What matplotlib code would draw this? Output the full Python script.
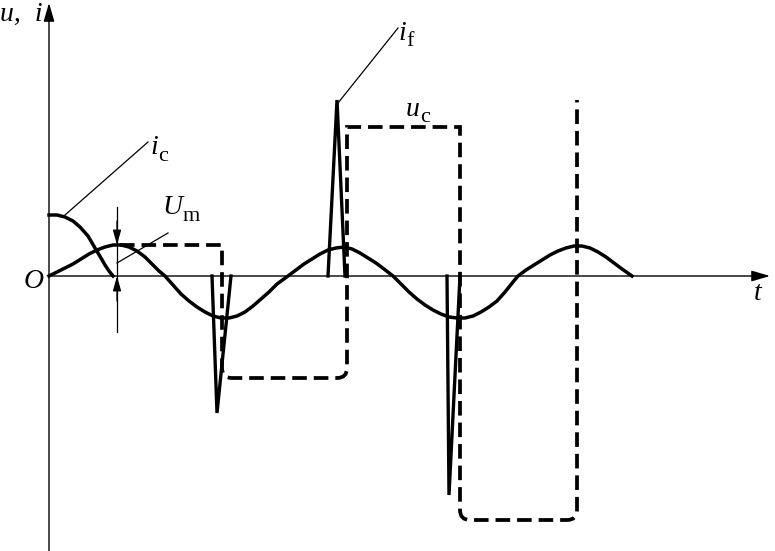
import matplotlib
matplotlib.use('Agg')
import matplotlib.pyplot as plt
from matplotlib.path import Path
from matplotlib.patches import PathPatch

plt.rcParams['font.family'] = ['Liberation Serif', 'DejaVu Serif']
plt.rcParams['lines.scale_dashes'] = False

# sine-like supply voltage u (t, value)
u_t = [0, 8, 16, 24, 32, 40, 48, 56, 64, 72, 80, 88, 96, 104, 110, 116,
       124, 132, 140, 148, 156, 164, 172, 180, 188, 196, 204, 212, 220, 228, 239,
       247, 255, 263, 271, 279, 287, 295, 303, 311, 319, 327, 335, 344,
       352, 360, 368, 376, 384, 392, 400, 408, 416, 424, 432, 440, 448, 456, 464, 469,
       477, 485, 493, 501, 509, 517, 525, 533, 541, 549, 557, 565, 573, 583]
u_v = [0, 4, 8, 12, 17, 22, 26, 29, 31, 31, 29, 25, 19, 11, 5, 0,
       -9, -18, -25, -31, -36, -40, -42, -42, -40, -36, -30, -23, -16, -8, 0,
       6, 12, 17, 22, 26, 28, 29, 27, 23, 18, 13, 7, 0,
       -8, -16, -23, -29, -34, -38, -41, -42, -42, -40, -36, -31, -25, -16, -6, 0,
       6, 11, 16, 21, 25, 28, 30, 30, 28, 24, 19, 13, 7, 0]

# capacitor current i_c at start
ic_t = [0, 8, 16, 24, 31, 39, 46, 52, 56, 60, 64]
ic_v = [61, 61, 59, 55, 49, 40, 28, 18, 11, 5, 0]

# capacitor voltage u_c: starts at first peak, steps at switching instants
uc_start = 71
uc_switch = [173, 298, 411, 528]
uc_level = [31, -102, 149, -244, 176]

# triggering pulses i_f (start, apex, end) and apex heights
if_t = [[163, 168, 182], [279, 288, 296], [398, 400, 411]]
if_v = [-137, 176, -219]

fig = plt.figure(figsize=(7.75, 5.51), dpi=100)
ax = fig.add_axes([0, 0, 1, 1])
ax.set_xlim(-49, 726)
ax.set_ylim(-275, 276)
ax.axis('off')

# axes with arrows
arr = dict(arrowstyle='-|>,head_length=0.75,head_width=0.22', lw=1.0,
           color='black', shrinkA=0, shrinkB=0, mutation_scale=15)
ax.annotate('', xy=(721, 0), xytext=(0, 0), arrowprops=arr)
ax.annotate('', xy=(0, 273), xytext=(0, -275), arrowprops=arr)

ax.plot(u_t, u_v, color='black', lw=2.5, solid_joinstyle='round')
ax.plot(ic_t, ic_v, color='black', lw=2.5, solid_joinstyle='round')

for ts, v in zip(if_t, if_v):
    ax.plot(ts, [0, v, 0], color='black', lw=2.4, solid_joinstyle='miter')

# u_c dashed with rounded bottom corners
r = 10
verts = [(uc_start, uc_level[0])]
codes = [Path.MOVETO]
for i, ts in enumerate(uc_switch):
    a, b = uc_level[i], uc_level[i + 1]
    if a < 0:
        verts += [(ts - r, a), (ts, a), (ts, a + r)]
        codes += [Path.LINETO, Path.CURVE3, Path.CURVE3]
    else:
        verts.append((ts, a))
        codes.append(Path.LINETO)
    if b < 0:
        verts += [(ts, b + r), (ts, b), (ts + r, b)]
        codes += [Path.LINETO, Path.CURVE3, Path.CURVE3]
    else:
        verts.append((ts, b))
        codes.append(Path.LINETO)
ax.add_patch(PathPatch(Path(verts, codes), fill=False, lw=2.7, color='black',
                       linestyle=(0, (10.5, 5)), capstyle='butt'))

# U_m dimension marks
ax.plot([68, 68], [69, -56], color='black', lw=0.9)
small = dict(arrowstyle='-|>,head_length=0.9,head_width=0.25', lw=0.9,
             color='black', shrinkA=0, shrinkB=0, mutation_scale=10)
ax.annotate('', xy=(68, 31), xytext=(68, 55), arrowprops=small)
ax.annotate('', xy=(68, 0), xytext=(68, -25), arrowprops=small)

# leader lines
ax.plot([16, 99], [61, 134], color='black', lw=0.9)
ax.plot([68, 119], [13, 43], color='black', lw=0.9)
ax.plot([289, 349], [173, 248], color='black', lw=0.9)

fs = 20


def label(x, y, main, sub=None):
    t = ax.text(x, y, main, fontsize=fs, style='italic', ha='left', va='center')
    if sub:
        ax.annotate(sub, xy=(1, 0.2), xycoords=t, xytext=(0.5, -1),
                    textcoords='offset points', fontsize=16, ha='left', va='center')


ax.text(-6, 262, 'u,  i', fontsize=fs, style='italic', ha='right', va='center')
ax.text(-15, -5, 'O', fontsize=fs, style='italic', ha='center', va='center')
ax.text(709, -18, 't', fontsize=fs, style='italic', ha='center', va='center')
label(101, 128, 'i', 'c')
label(113, 68, 'U', 'm')
label(349, 243, 'i', 'f')
label(357, 167, 'u', 'c')

fig.savefig('out.png', dpi=100)
